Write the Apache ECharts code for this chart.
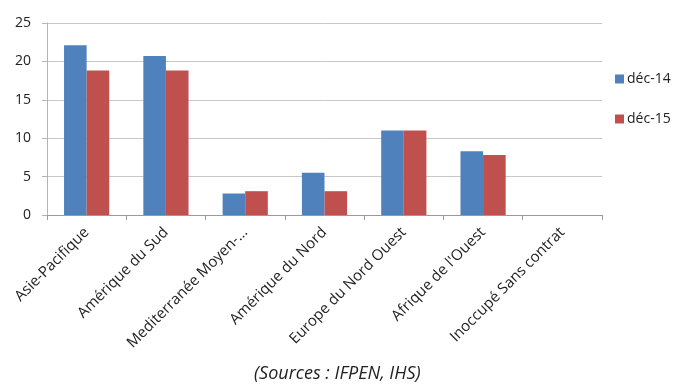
<!DOCTYPE html>
<html>
<head>
<meta charset="utf-8">
<script src="https://cdn.jsdelivr.net/npm/echarts@6/dist/echarts.min.js"></script>
<style>
  html, body { margin: 0; padding: 0; background: #fff; }
  #chart { width: 673px; height: 385px; }
</style>
</head>
<body>
<div id="chart"></div>
<script>
// Regions and fleet counts at two dates
const categories = [
  'Asie-Pacifique',
  'Amérique du Sud',
  'Mediterranée Moyen-…',
  'Amérique du Nord',
  'Europe du Nord Ouest',
  "Afrique de l'Ouest",
  'Inoccupé Sans contrat'
];
const seriesNames = ['déc-14', 'déc-15'];
const dec14 = [22.1, 20.7, 2.8, 5.5, 11.0, 8.3, 0];
const dec15 = [18.8, 18.8, 3.1, 3.1, 11.0, 7.8, 0];
const yTicks = { min: 0, max: 25, interval: 5 };
const caption = '(Sources : IFPEN, IHS)';

const font = "'Open Sans', 'Liberation Sans', sans-serif";
const chart = echarts.init(document.getElementById('chart'), null, { renderer: 'canvas' });

chart.setOption({
  animation: false,
  textStyle: { fontFamily: font },
  grid: { left: 47, right: 71, top: 23, bottom: 170, containLabel: false },
  legend: {
    orient: 'vertical',
    left: 610,
    top: 67,
    itemWidth: 9,
    itemHeight: 9,
    itemGap: 26,
    icon: 'rect',
    textStyle: { fontSize: 14, color: '#222', fontFamily: font, padding: [0, 0, 0, -2] },
    data: seriesNames
  },
  graphic: [{
    type: 'text',
    left: 254,
    top: 365,
    style: {
      text: caption,
      font: 'italic 18px ' + font,
      fill: '#222'
    }
  }],
  xAxis: {
    type: 'category',
    data: categories,
    axisLine: { lineStyle: { color: '#9a9a9a', width: 1 } },
    axisTick: { show: true, length: 5, lineStyle: { color: '#9a9a9a' } },
    axisLabel: {
      rotate: 45,
      interval: 0,
      fontSize: 15,
      color: '#222',
      margin: 15,
      fontFamily: font
    }
  },
  yAxis: {
    type: 'value',
    min: yTicks.min,
    max: yTicks.max,
    interval: yTicks.interval,
    axisLine: { show: true, lineStyle: { color: '#b5b5b5' } },
    axisTick: { show: true, length: 5, lineStyle: { color: '#b5b5b5' } },
    axisLabel: { fontSize: 14, color: '#222', margin: 16, fontFamily: font },
    splitLine: { lineStyle: { color: '#c8c8c8', width: 1 } }
  },
  series: [
    {
      name: seriesNames[0],
      type: 'bar',
      data: dec14,
      barGap: '0%',
      barCategoryGap: '43%',
      itemStyle: { color: '#4F81BD' }
    },
    {
      name: seriesNames[1],
      type: 'bar',
      data: dec15,
      barGap: '0%',
      barCategoryGap: '43%',
      itemStyle: { color: '#C0504D' }
    }
  ]
});
</script>
</body>
</html>
